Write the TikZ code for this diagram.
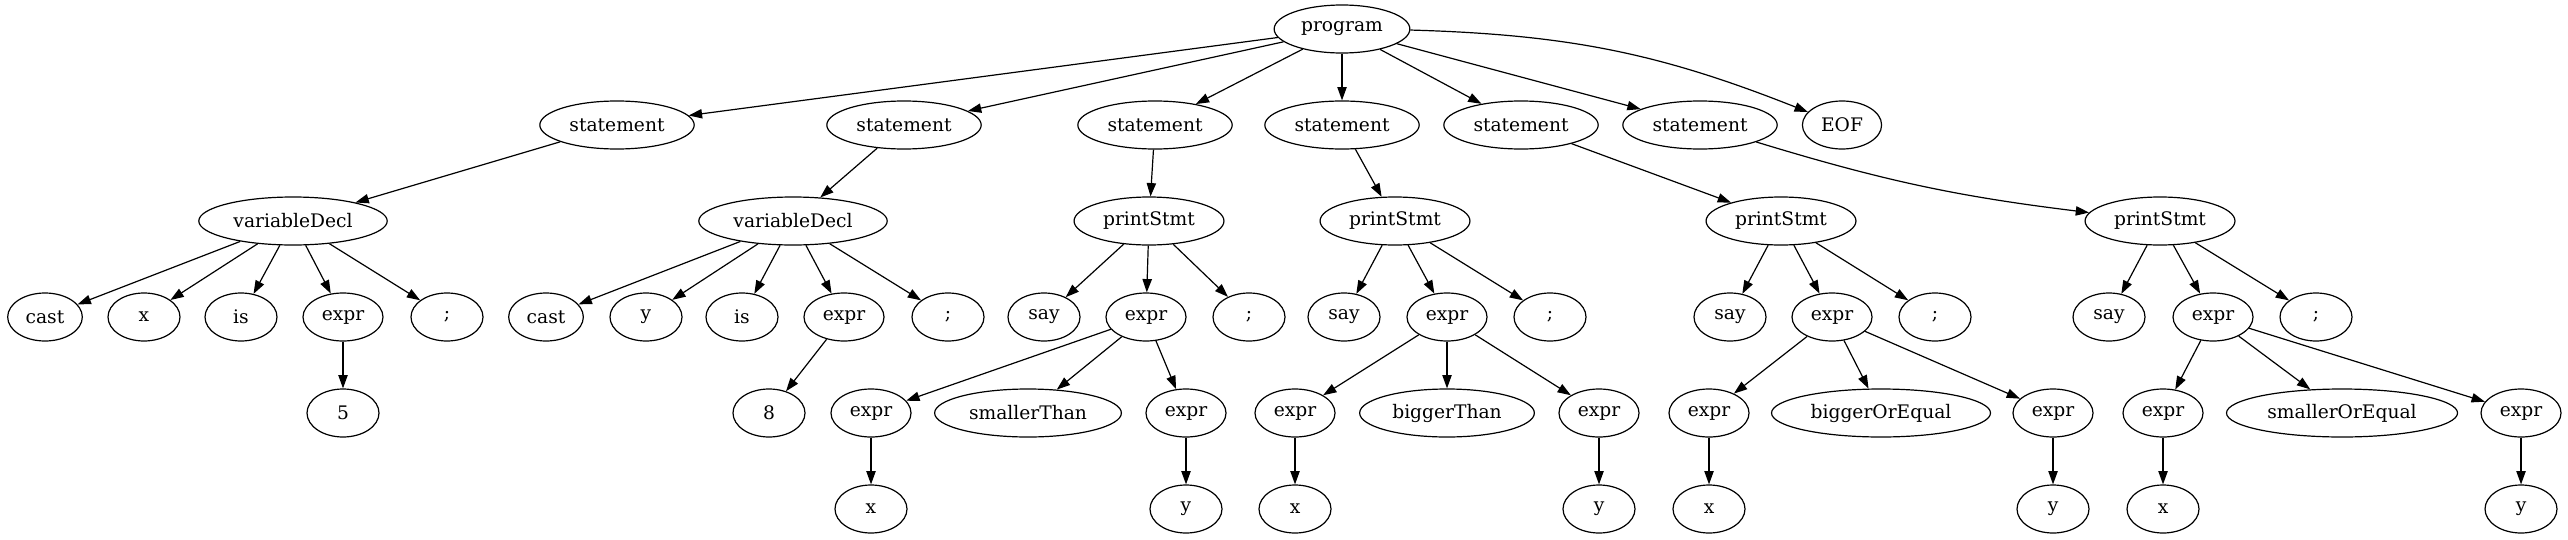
\documentclass[tikz,border=0pt]{standalone}
\usepackage{fontspec}
\setmainfont{DejaVu Serif}
\usetikzlibrary{arrows.meta,shapes.geometric}

\begin{document}
\begin{tikzpicture}[x=0.75pt, y=-0.75pt,
    tok/.style={ellipse, draw, line width=0.9pt, inner xsep=5.3pt, inner ysep=2pt, minimum width=54pt, minimum height=36pt, font=\fontsize{14}{16}\selectfont},
    arr/.style={-{Triangle[length=10pt,width=7pt]}, line width=0.9pt},
]
    \useasboundingbox (0,0) rectangle (2568,539);

    % Root and statements
    \node[tok] (prog) at (1342, 29) {program};
    \node[tok] (st1) at (617, 125) {statement};
    \node[tok] (st2) at (904, 125) {statement};
    \node[tok] (st3) at (1155, 125) {statement};
    \node[tok] (st4) at (1342, 125) {statement};
    \node[tok] (st5) at (1521, 125) {statement};
    \node[tok] (st6) at (1700, 125) {statement};
    \node[tok] (eof) at (1842, 125) {EOF};

    % Rules
    \node[tok] (vd1) at (293, 221) {variableDecl};
    \node[tok] (vd2) at (793, 221) {variableDecl};
    \node[tok] (ps1) at (1149, 221) {printStmt};
    \node[tok] (ps2) at (1395, 221) {printStmt};
    \node[tok] (ps3) at (1781, 221) {printStmt};
    \node[tok] (ps4) at (2160, 221) {printStmt};

    % Declarations
    \node[tok] (cast1) at (45, 317) {cast};
    \node[tok] (x1) at (144, 317) {x};
    \node[tok] (is1) at (241, 317) {is};
    \node[tok] (ex1) at (343, 317) {expr};
    \node[tok] (semi1) at (447, 317) {;};
    \node[tok] (five) at (343, 413) {5};
    \node[tok] (cast2) at (546, 317) {cast};
    \node[tok] (y2) at (646, 317) {y};
    \node[tok] (is2) at (742, 317) {is};
    \node[tok] (ex2) at (844, 317) {expr};
    \node[tok] (semi2) at (948, 317) {;};
    \node[tok] (eight) at (769, 413) {8};

    % Print statements
    \node[tok] (say3) at (1044, 317) {say};
    \node[tok] (ex3) at (1146, 317) {expr};
    \node[tok] (semi3) at (1249, 317) {;};
    \node[tok] (ex3a) at (871, 413) {expr};
    \node[tok] (lt) at (1028, 413) {smallerThan};
    \node[tok] (ex3b) at (1186, 413) {expr};
    \node[tok] (x3) at (871, 509) {x};
    \node[tok] (y3) at (1186, 509) {y};

    \node[tok] (say4) at (1344, 317) {say};
    \node[tok] (ex4) at (1447, 317) {expr};
    \node[tok] (semi4) at (1550, 317) {;};
    \node[tok] (ex4a) at (1295, 413) {expr};
    \node[tok] (gt) at (1447, 413) {biggerThan};
    \node[tok] (ex4b) at (1599, 413) {expr};
    \node[tok] (x4) at (1295, 509) {x};
    \node[tok] (y4) at (1599, 509) {y};

    \node[tok] (say5) at (1730, 317) {say};
    \node[tok] (ex5) at (1832, 317) {expr};
    \node[tok] (semi5) at (1935, 317) {;};
    \node[tok] (ex5a) at (1709, 413) {expr};
    \node[tok] (ge) at (1881, 413) {biggerOrEqual};
    \node[tok] (ex5b) at (2053, 413) {expr};
    \node[tok] (x5) at (1709, 509) {x};
    \node[tok] (y5) at (2053, 509) {y};

    \node[tok] (say6) at (2109, 317) {say};
    \node[tok] (ex6) at (2213, 317) {expr};
    \node[tok] (semi6) at (2316, 317) {;};
    \node[tok] (ex6a) at (2163, 413) {expr};
    \node[tok] (le) at (2342, 413) {smallerOrEqual};
    \node[tok] (ex6b) at (2521, 413) {expr};
    \node[tok] (x6) at (2163, 509) {x};
    \node[tok] (y6) at (2521, 509) {y};

    % Edges
    \foreach \a/\b in {prog/st1, prog/st2, prog/st3, prog/st4, prog/st5, prog/st6,
        st1/vd1, st2/vd2, st3/ps1, st4/ps2, st5/ps3,
        vd1/cast1, vd1/x1, vd1/is1, vd1/ex1, vd1/semi1, ex1/five,
        vd2/cast2, vd2/y2, vd2/is2, vd2/ex2, vd2/semi2, ex2/eight,
        ps1/say3, ps1/ex3, ps1/semi3, ex3/ex3a, ex3/lt, ex3/ex3b, ex3a/x3, ex3b/y3,
        ps2/say4, ps2/ex4, ps2/semi4, ex4/ex4a, ex4/gt, ex4/ex4b, ex4a/x4, ex4b/y4,
        ps3/say5, ps3/ex5, ps3/semi5, ex5/ex5a, ex5/ge, ex5/ex5b, ex5a/x5, ex5b/y5,
        ps4/say6, ps4/ex6, ps4/semi6, ex6/ex6a, ex6/le, ex6/ex6b, ex6a/x6, ex6b/y6} {
        \draw[arr] (\a) -- (\b);
    }
    \draw[arr] (prog) to[bend left=10] (eof);
    \draw[arr] (st6) to[bend right=5] (ps4);
\end{tikzpicture}
\end{document}
